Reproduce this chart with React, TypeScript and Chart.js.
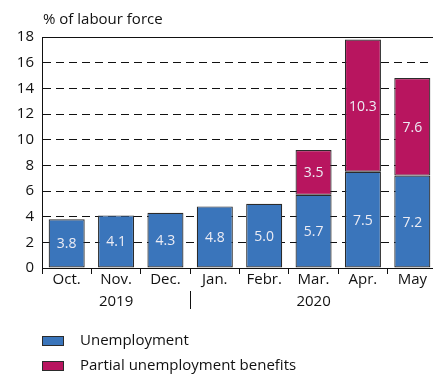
import React, { useEffect, useRef } from "react";
import { Chart, registerables } from "chart.js";

Chart.register(...registerables);

const months = ["Oct.", "Nov.", "Dec.", "Jan.", "Febr.", "Mar.", "Apr.", "May"];
const years = ["2019", "2019", "2019", "2020", "2020", "2020", "2020", "2020"];
const unemployment = [3.8, 4.1, 4.3, 4.8, 5.0, 5.7, 7.5, 7.2];
const partialBenefits = [null, null, null, null, null, 3.5, 10.3, 7.6];
const seriesNames = ["Unemployment", "Partial unemployment benefits"];
const axisTitle = "% of labour force";
const yMin = 0;
const yMax = 18;
const yStep = 2;

const BLUE = "#3a75bb";
const PINK = "#b8155f";
const EDGE = "#2b2b2b";
const FONT = "'Open Sans', sans-serif";

// group starts / centres for the year row
function yearGroups() {
  const groups: { label: string; start: number; end: number }[] = [];
  years.forEach((y, i) => {
    const g = groups[groups.length - 1];
    if (g && g.label === y) g.end = i;
    else groups.push({ label: y, start: i, end: i });
  });
  return groups;
}

const groups = yearGroups();
const tickLabels = months.map((m, i) => {
  const g = groups.find((gr) => Math.floor((gr.start + gr.end) / 2) === i);
  return [m, g ? g.label : ""];
});

const overlay = {
  id: "overlay",
  afterDatasetsDraw(chart: any) {
    const ctx = chart.ctx;
    ctx.save();
    ctx.font = `14px ${FONT}`;
    ctx.fillStyle = "#ececf4";
    ctx.textAlign = "center";
    ctx.textBaseline = "middle";
    chart.data.datasets.forEach((ds: any, di: number) => {
      const meta = chart.getDatasetMeta(di);
      meta.data.forEach((bar: any, i: number) => {
        const v = ds.data[i];
        if (v == null) return;
        const p = bar.getProps(["x", "y", "base"], true);
        ctx.fillText(v.toFixed(1), p.x, (p.y + p.base) / 2 + 1);
      });
    });
    ctx.restore();
  },
  afterDraw(chart: any) {
    const ctx = chart.ctx;
    const area = chart.chartArea;
    const xs = chart.scales.x;
    ctx.save();
    // axis title
    ctx.font = `15px ${FONT}`;
    ctx.fillStyle = "#111";
    ctx.textAlign = "left";
    ctx.textBaseline = "middle";
    ctx.fillText(axisTitle, area.left + 1, 20);
    // year separators
    ctx.strokeStyle = "#111";
    ctx.lineWidth = 1;
    groups.slice(1).forEach((g) => {
      const x = Math.round((xs.getPixelForValue(g.start - 1) + xs.getPixelForValue(g.start)) / 2) + 0.5;
      ctx.beginPath();
      ctx.moveTo(x, area.bottom + 23);
      ctx.lineTo(x, area.bottom + 41);
      ctx.stroke();
    });
    // legend
    chart.data.datasets.forEach((ds: any, di: number) => {
      const cy = area.bottom + 73 + di * 25;
      ctx.fillStyle = ds.backgroundColor;
      ctx.fillRect(area.left, cy - 5, 22, 10);
      ctx.strokeStyle = EDGE;
      ctx.strokeRect(area.left + 0.5, cy - 4.5, 21, 9);
      ctx.fillStyle = "#111";
      ctx.font = `15px ${FONT}`;
      ctx.textBaseline = "middle";
      ctx.fillText(ds.label, area.left + 38, cy);
    });
    ctx.restore();
  },
};

export default function App() {
  const ref = useRef<HTMLCanvasElement>(null);
  useEffect(() => {
    if (!ref.current) return;
    const chart = new Chart(ref.current, {
      type: "bar",
      data: {
        labels: tickLabels,
        datasets: [
          {
            label: seriesNames[0],
            data: unemployment,
            backgroundColor: BLUE,
            borderColor: EDGE,
            borderWidth: 1.2,
            borderSkipped: false,
            categoryPercentage: 1,
            barPercentage: 0.73,
          },
          {
            label: seriesNames[1],
            data: partialBenefits as any,
            backgroundColor: PINK,
            borderColor: EDGE,
            borderWidth: 1.2,
            borderSkipped: false,
            categoryPercentage: 1,
            barPercentage: 0.73,
          },
        ],
      },
      options: {
        responsive: false,
        animation: false,
        devicePixelRatio: 1,
        layout: { padding: { left: 0, right: 1, top: 37, bottom: 68 } },
        plugins: {
          legend: { display: false },
          tooltip: { enabled: false },
          title: { display: false },
        },
        scales: {
          x: {
            stacked: true,
            afterFit: (s: any) => {
              s.height = 40;
            },
            grid: {
              offset: true,
              drawOnChartArea: false,
              drawTicks: true,
              tickLength: 6,
              color: "#111",
              lineWidth: 1,
            },
            border: { display: true, color: "#111", width: 1 },
            ticks: {
              color: "#111",
              font: { family: FONT, size: 15, lineHeight: 22 / 15 },
              padding: -5,
              maxRotation: 0,
              autoSkip: false,
            },
          },
          y: {
            stacked: true,
            min: yMin,
            max: yMax,
            afterFit: (s: any) => {
              s.width = 42;
            },
            grid: {
              drawTicks: false,
              color: "#111",
              lineWidth: 1,
            },
            border: {
              display: true,
              color: "#111",
              width: 1,
              dash: (c: any) => (c.tick && c.tick.value === yMax ? [] : [8, 5]),
            },
            ticks: {
              stepSize: yStep,
              color: "#111",
              padding: 8,
              font: { family: FONT, size: 15 },
            },
          },
        },
      },
      plugins: [overlay],
    });
    return () => chart.destroy();
  }, []);
  return (
    <div style={{ position: "fixed", left: 0, top: 0, width: 433, height: 376, overflow: "hidden", background: "#fff" }}>
      <canvas ref={ref} width={438} height={376} style={{ width: 438, height: 376, display: "block" }} />
    </div>
  );
}
